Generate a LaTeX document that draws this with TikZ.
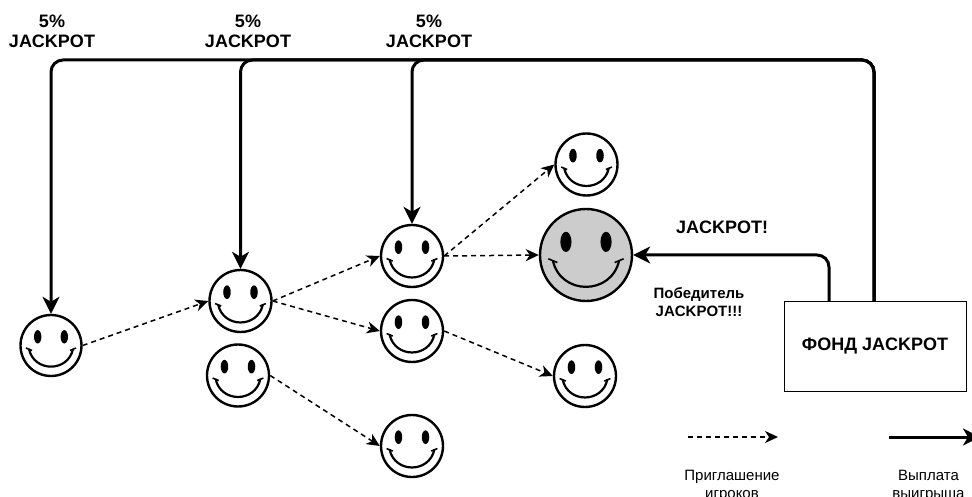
\documentclass[tikz,border=0pt]{standalone}
\usepackage{fontspec}
\setmainfont{Liberation Sans}
\usetikzlibrary{arrows.meta}
\begin{document}
\begin{tikzpicture}[
		x=1pt, y=-1pt,
		face/.style={circle, draw, line width=2.4pt, fill=white, minimum size=#1pt, inner sep=0pt,
			path picture={
				\pgfmathsetmacro\fs{#1/61}
				\begin{scope}[shift={(path picture bounding box.center)}]
					\fill[black] (-13.3*\fs,-8.7*\fs) ellipse ({3.7*\fs} and {6.7*\fs});
					\fill[black] (13.3*\fs,-8.7*\fs) ellipse ({3.7*\fs} and {6.7*\fs});
					\draw[line width=2.2pt] (-22*\fs,3.5*\fs) .. controls (-17*\fs,27*\fs) and (17*\fs,27*\fs) .. (22*\fs,3.5*\fs);
					\draw[line width=1.6pt] (-25*\fs,2.5*\fs) -- (-19*\fs,5*\fs);
					\draw[line width=1.6pt] (25*\fs,2.5*\fs) -- (19*\fs,5*\fs);
				\end{scope}
			}},
		invite/.style={-{Stealth[length=13pt,width=12pt,inset=4pt]}, line width=1.5pt, dash pattern=on 5pt off 4pt},
		payout/.style={-{Stealth[length=17pt,width=17pt,inset=5pt]}, line width=3pt, rounded corners=12pt},
		label/.style={font=\bfseries\fontsize{18}{20}\selectfont, align=center},
		note/.style={font=\fontsize{15}{18.5}\selectfont, align=center}
	]
	\clip (0,0) rectangle (972,497);

	% faces
	\node[face=61] (p1) at (51,345.5) {};
	\node[face=62] (p2) at (240.5,301) {};
	\node[face=62] (p3) at (238,375.5) {};
	\node[face=62] (p4) at (412,256) {};
	\node[face=62] (p5) at (412,331) {};
	\node[face=62] (p6) at (412,446) {};
	\node[face=62] (p7) at (586.5,164.5) {};
	\node[face=62] (p8) at (585,376) {};
	\node[face=92, fill=black!20] (winner) at (586,255) {};

	% fund
	\node[draw, line width=1pt, minimum width=182pt, minimum height=90pt, font=\bfseries\fontsize{18}{20}\selectfont] (fund) at (875,346.5) {ФОНД JACKPOT};
	\coordinate (fundout) at (874,301.5);
	\coordinate (fundwin) at (829,301.5);
	\coordinate (top) at (874,60);

	% invitations
	\draw[invite] (p1.east) -- (p2.west);
	\draw[invite] (p2.east) -- (p4.west);
	\draw[invite] (p2.east) -- (p5.west);
	\draw[invite] (p3.east) -- (p6.west);
	\draw[invite] (p4.east) -- (p7.west);
	\draw[invite] (p4.east) -- (winner.west);
	\draw[invite] (p5.east) -- (p8.west);

	% payouts
	\draw[payout] (fundout) -- (top) -- (top -| p1.north) -- (p1.north);
	\draw[payout] (fundout) -- (top) -- (top -| p2.north) -- (p2.north);
	\draw[payout] (fundout) -- (top) -- (top -| p4.north) -- (p4.north);
	\draw[payout] (fundwin) |- (winner.east);

	% labels
	\node[label] (t1) at (52,31.5) {5\%\\JACKPOT};
	\node[label] (t2) at (248,31.5) {5\%\\JACKPOT};
	\node[label] (t3) at (429,31.5) {5\%\\JACKPOT};
	\node[label] (t4) at (722,227) {JACKPOT!};
	\node[label, font=\bfseries\fontsize{15}{18}\selectfont] (t5) at (699,302.5) {Победитель\\ JACKPOT!!!};

	% legend
	\coordinate (a1) at (688,437);
	\coordinate (a2) at (778,437);
	\coordinate (b1) at (889,437);
	\coordinate (b2) at (980,437);
	\draw[invite] (a1) -- (a2);
	\draw[payout] (b1) -- (b2);
	\node[note] (n1) at (732,486) {Приглашение\\игроков};
	\node[note] (n2) at (928.5,486) {Выплата\\выигрыша};
\end{tikzpicture}
\end{document}
